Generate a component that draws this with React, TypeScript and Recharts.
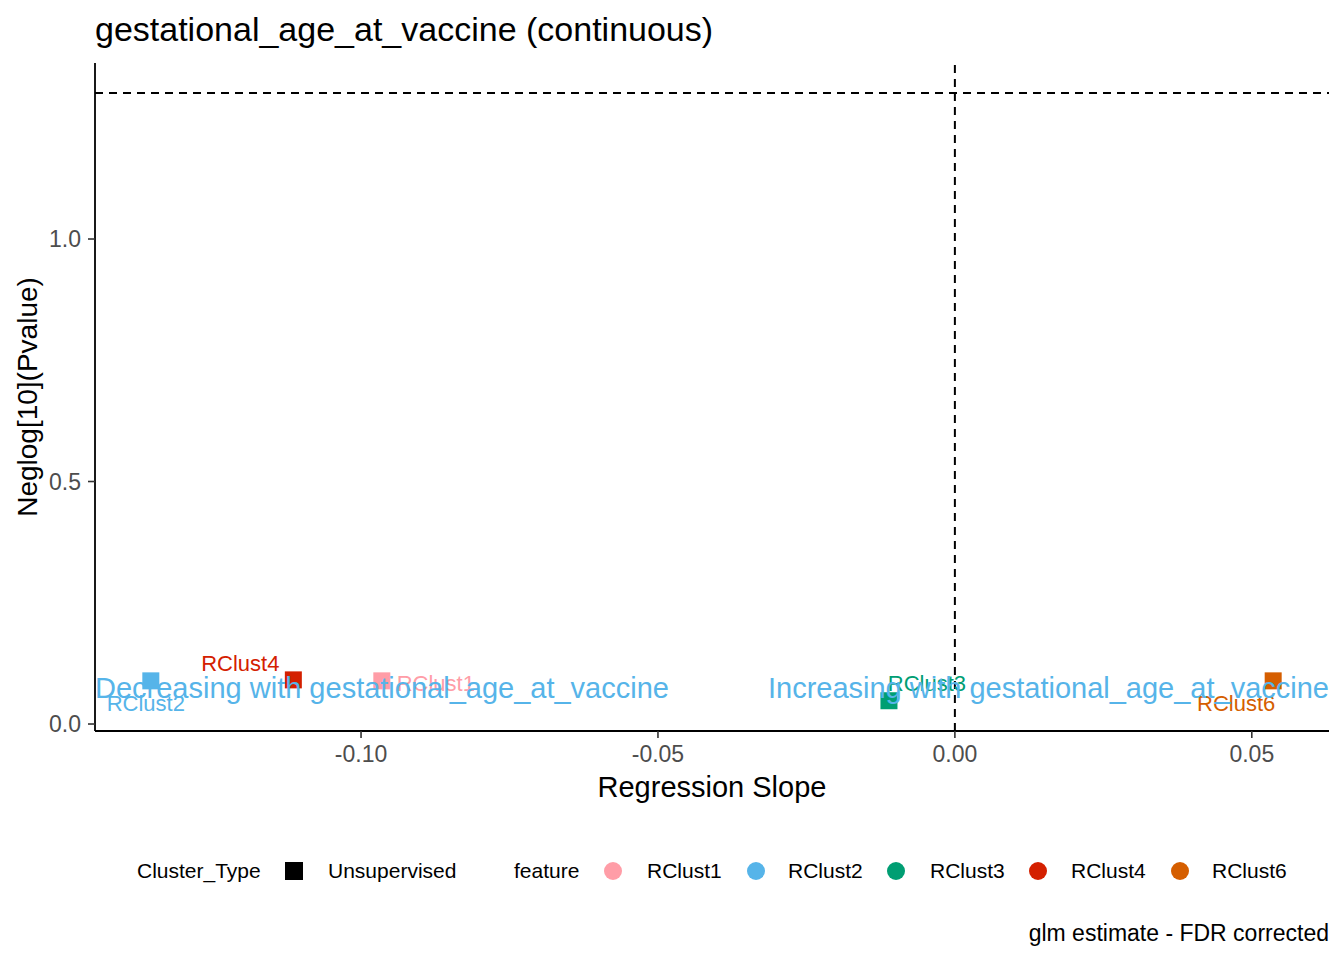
import { ScatterChart, Scatter, XAxis, YAxis, ReferenceLine } from "recharts";

const FONT = '"Liberation Sans", Arial, sans-serif';

// features and their glm results
const clusters = ["RClust1", "RClust2", "RClust3", "RClust4", "RClust6"];
const slopes = [-0.0965, -0.1354, -0.0111, -0.1114, 0.0536];
const negLogP = [0.089, 0.089, 0.048, 0.091, 0.089];
const clusterColors = ["#FF9DA7", "#56B4E9", "#009E73", "#D42000", "#D55E00"];

// label nudges in px, mimics the ggrepel placement
const labelDx = [54, -5, 38, -53, -37];
const labelDy = [2, 22, -18, -17, 22];

const xTicks = [-0.1, -0.05, 0, 0.05];
const yTicks = [0, 0.5, 1];
const xDomain = [-0.1448, 0.063];
const yDomain = [-0.0144, 1.3629];
const fdrLine = 1.30103;

const trendTexts = [
  "Decreasing with gestational_age_at_vaccine",
  "Increasing with gestational_age_at_vaccine",
];
const trendX = [xDomain[0], xDomain[1]];
const trendY = [0.076, 0.076];

const points = clusters.map((name, i) => ({
  name,
  x: slopes[i],
  y: negLogP[i],
  color: clusterColors[i],
  dx: labelDx[i],
  dy: labelDy[i],
}));

const trends = trendTexts.map((text, i) => ({
  text,
  x: trendX[i],
  y: trendY[i],
  anchor: i === 0 ? "start" : "end",
}));

const legendItems = [
  { name: "RClust1", swatch: 613, label: 647 },
  { name: "RClust2", swatch: 756, label: 788 },
  { name: "RClust3", swatch: 896, label: 930 },
  { name: "RClust4", swatch: 1038, label: 1071 },
  { name: "RClust6", swatch: 1180, label: 1212 },
];

export default function App() {
  return (
    <div style={{ position: "absolute", left: 0, top: 0, width: 1344, height: 960, background: "#fff", fontFamily: FONT }}>
      <ScatterChart width={1344} height={960} margin={{ top: 63, right: 15, bottom: 199, left: 35 }}>
        <XAxis
          type="number"
          dataKey="x"
          domain={xDomain}
          allowDataOverflow
          ticks={xTicks}
          tickFormatter={(v: number) => v.toFixed(2)}
          height={30}
          tickSize={7}
          tickMargin={8}
          axisLine={{ stroke: "#000", strokeWidth: 1.8 }}
          tickLine={{ stroke: "#333", strokeWidth: 1.6 }}
          tick={{ fontSize: 23, fill: "#4D4D4D", fontFamily: FONT }}
        />
        <YAxis
          type="number"
          dataKey="y"
          domain={yDomain}
          allowDataOverflow
          ticks={yTicks}
          tickFormatter={(v: number) => v.toFixed(1)}
          width={60}
          tickSize={7}
          tickMargin={7}
          axisLine={{ stroke: "#000", strokeWidth: 1.8 }}
          tickLine={{ stroke: "#333", strokeWidth: 1.6 }}
          tick={{ fontSize: 23, fill: "#4D4D4D", fontFamily: FONT }}
        />
        <ReferenceLine x={0} stroke="#000" strokeWidth={2} strokeDasharray="8 6" />
        <ReferenceLine y={fdrLine} stroke="#000" strokeWidth={2} strokeDasharray="8 6" />
        <Scatter
          data={points}
          isAnimationActive={false}
          shape={(p: any) => (
            <rect x={p.cx - 8.5} y={p.cy - 8.5} width={17} height={17} fill={p.payload.color} />
          )}
        />
        <Scatter
          data={points}
          isAnimationActive={false}
          shape={(p: any) => (
            <text
              x={p.cx + p.payload.dx}
              y={p.cy + p.payload.dy}
              dy="0.36em"
              textAnchor="middle"
              fontSize={22}
              fontFamily={FONT}
              fill={p.payload.color}
            >
              {p.payload.name}
            </text>
          )}
        />
        <Scatter
          data={trends}
          isAnimationActive={false}
          shape={(p: any) => (
            <text
              x={p.cx}
              y={p.cy}
              dy="0.36em"
              textAnchor={p.payload.anchor}
              fontSize={29}
              fontFamily={FONT}
              fill="#56B4E9"
            >
              {p.payload.text}
            </text>
          )}
        />
      </ScatterChart>

      <svg width={1344} height={960} style={{ position: "absolute", left: 0, top: 0, pointerEvents: "none" }} fontFamily={FONT}>
        <text x={95} y={41} fontSize={34} fill="#000">
          gestational_age_at_vaccine (continuous)
        </text>
        <text x={712} y={797} fontSize={29} textAnchor="middle" fill="#000">
          Regression Slope
        </text>
        <text x={37} y={397} fontSize={28} textAnchor="middle" fill="#000" transform="rotate(-90 37 397)">
          Neglog[10](Pvalue)
        </text>

        <text x={137} y={878} fontSize={21} fill="#000">Cluster_Type</text>
        <rect x={285} y={862} width={18} height={18} fill="#000" />
        <text x={328} y={878} fontSize={21} fill="#000">Unsupervised</text>
        <text x={514} y={878} fontSize={21} fill="#000">feature</text>
        {legendItems.map((it, i) => (
          <g key={it.name}>
            <circle cx={it.swatch} cy={871} r={9} fill={clusterColors[i]} />
            <text x={it.label} y={878} fontSize={21} fill="#000">{it.name}</text>
          </g>
        ))}

        <text x={1329} y={941} fontSize={23} textAnchor="end" fill="#000">
          glm estimate - FDR corrected
        </text>
      </svg>
    </div>
  );
}
